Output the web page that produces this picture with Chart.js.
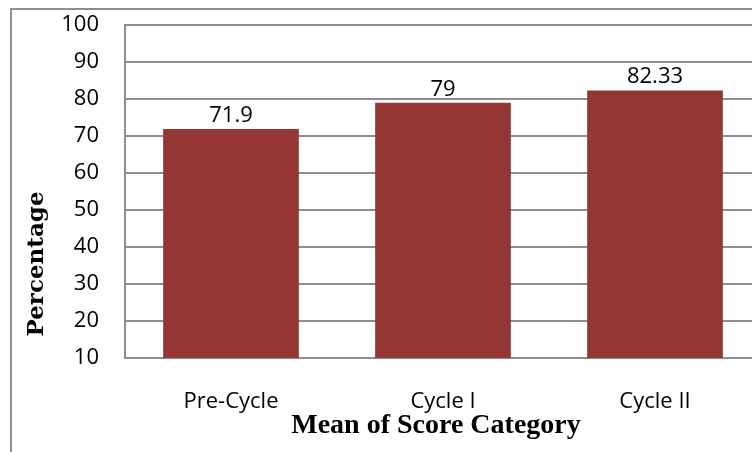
<!DOCTYPE html>
<html>
<head>
<meta charset="utf-8">
<script src="https://cdn.jsdelivr.net/npm/chart.js@4/dist/chart.umd.min.js"></script>
<style>
  html, body { margin: 0; padding: 0; background: #fff; overflow: hidden; }
  #wrap { position: relative; width: 752px; height: 452px; overflow: hidden; }
  #cv { position: absolute; left: 0; top: 0; }
</style>
</head>
<body>
<div id="wrap"><canvas id="cv" width="770" height="452"></canvas></div>
<script>
// Mean score per category
const categories = ['Pre-Cycle', 'Cycle I', 'Cycle II'];
const meanScores = [71.9, 79, 82.33];
const yTicks = { min: 10, max: 100, step: 10 };
const xTitle = 'Mean of Score Category';
const yTitle = 'Percentage';

const BAR = '#943634';
const GRID = '#8e8e8e';
const TICK_FONT = { family: "'Open Sans', 'Liberation Sans', sans-serif", size: 22 };

// Outer frame of the chart object
const framePlugin = {
  id: 'frame',
  beforeDraw(chart) {
    const ctx = chart.ctx;
    ctx.save();
    ctx.fillStyle = '#fff';
    ctx.fillRect(0, 0, chart.width, chart.height);
    ctx.strokeStyle = GRID;
    ctx.lineWidth = 2;
    ctx.strokeRect(11, 9, chart.width + 40, chart.height + 40);
    ctx.restore();
  }
};

// Value labels above each bar
const valueLabels = {
  id: 'valueLabels',
  afterDatasetsDraw(chart) {
    const ctx = chart.ctx;
    const meta = chart.getDatasetMeta(0);
    ctx.save();
    ctx.font = `${TICK_FONT.size}px ${TICK_FONT.family}`;
    ctx.fillStyle = '#000';
    ctx.textAlign = 'center';
    ctx.textBaseline = 'alphabetic';
    meta.data.forEach((bar, i) => {
      ctx.fillText(String(chart.data.datasets[0].data[i]), bar.x, bar.y - 7);
    });
    ctx.restore();
  }
};

// Axis titles
const axisTitles = {
  id: 'axisTitles',
  afterDraw(chart) {
    const ctx = chart.ctx;
    ctx.save();
    ctx.fillStyle = '#000';
    ctx.textAlign = 'center';
    ctx.textBaseline = 'alphabetic';
    ctx.font = "bold 28px 'Liberation Serif', 'Times New Roman', serif";
    ctx.fillText(xTitle, 436, 433);
    ctx.translate(43, 264);
    ctx.rotate(-Math.PI / 2);
    ctx.font = "bold 23px 'DejaVu Serif', serif";
    ctx.fillText(yTitle, 0, 0);
    ctx.restore();
  }
};

new Chart(document.getElementById('cv'), {
  type: 'bar',
  data: {
    labels: categories,
    datasets: [{
      data: meanScores,
      backgroundColor: BAR,
      borderWidth: 0,
      barPercentage: 0.64,
      categoryPercentage: 1.0
    }]
  },
  options: {
    responsive: false,
    animation: false,
    devicePixelRatio: 1,
    layout: { padding: { left: 0, top: 25, right: 9, bottom: 0 } },
    plugins: { legend: { display: false }, tooltip: { enabled: false } },
    scales: {
      x: {
        grid: { display: false, drawTicks: false },
        border: { display: true, color: GRID, width: 2 },
        ticks: { color: '#000', font: TICK_FONT, padding: 31, maxRotation: 0 },
        afterFit(scale) { scale.height = 94; scale.paddingLeft = 0; scale.paddingRight = 0; }
      },
      y: {
        min: yTicks.min,
        max: yTicks.max,
        ticks: { stepSize: yTicks.step, color: '#000', font: TICK_FONT, padding: 26 },
        grid: { color: GRID, lineWidth: 2, drawTicks: false },
        border: { display: true, color: GRID, width: 2 },
        afterFit(scale) { scale.width = 125; scale.paddingTop = 0; scale.paddingBottom = 0; }
      }
    }
  },
  plugins: [framePlugin, valueLabels, axisTitles]
});
</script>
</body>
</html>
